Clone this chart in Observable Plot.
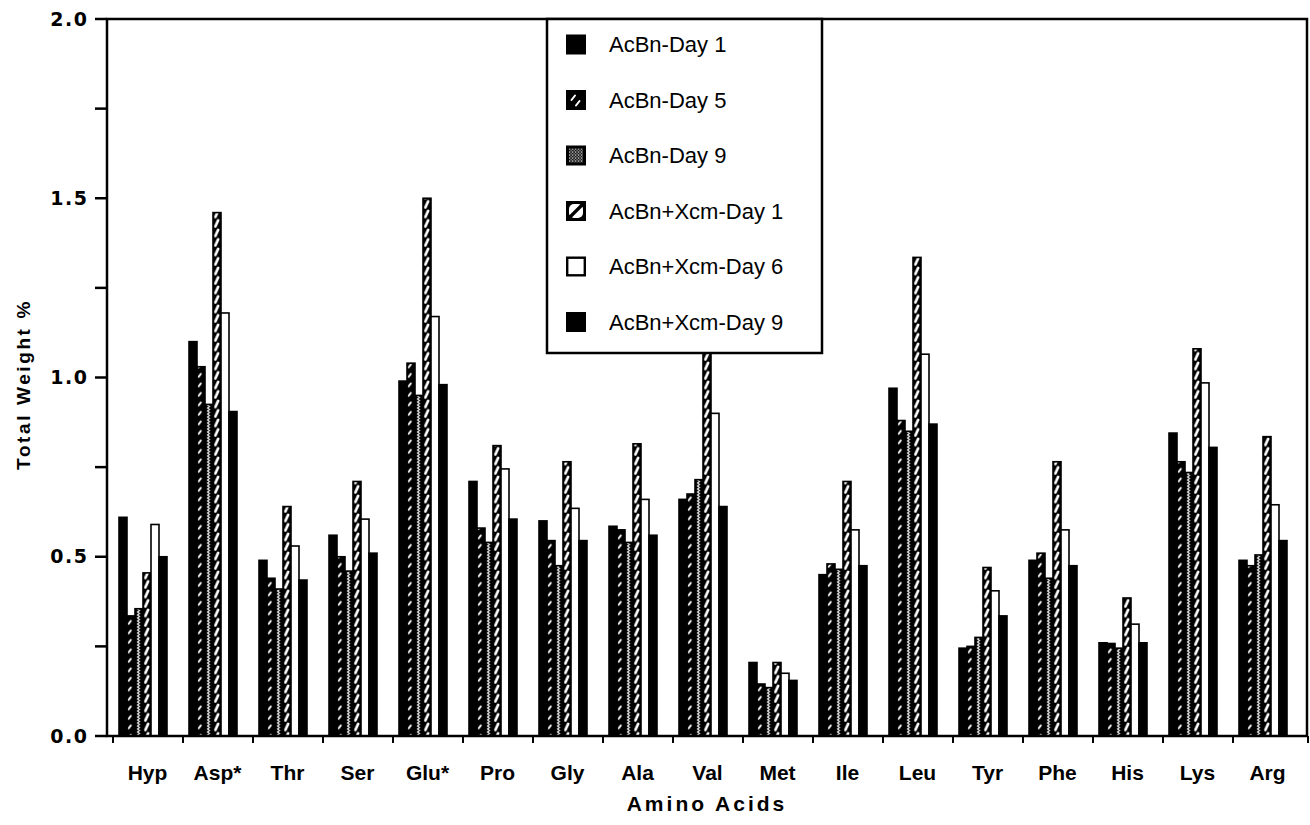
<!DOCTYPE html>
<html>
<head>
<meta charset="utf-8">
<script src="https://cdn.jsdelivr.net/npm/d3@7"></script>
<script src="https://cdn.jsdelivr.net/npm/@observablehq/plot@0.6"></script>
<style>
  html, body { margin: 0; padding: 0; background: #fff; }
  #chart svg { display: block; }
</style>
</head>
<body>
<div id="chart"></div>
<script>
// Amino acid composition (total weight %) for six sampling series
const aminoAcids = ["Hyp", "Asp*", "Thr", "Ser", "Glu*", "Pro", "Gly", "Ala", "Val",
                    "Met", "Ile", "Leu", "Tyr", "Phe", "His", "Lys", "Arg"];
const seriesNames = ["AcBn-Day 1", "AcBn-Day 5", "AcBn-Day 9",
                     "AcBn+Xcm-Day 1", "AcBn+Xcm-Day 6", "AcBn+Xcm-Day 9"];

const acbnDay1 = [0.61, 1.10, 0.49, 0.56, 0.99, 0.71, 0.60, 0.585, 0.66, 0.205, 0.45, 0.97, 0.245, 0.49, 0.26, 0.845, 0.49];
const acbnDay5 = [0.335, 1.03, 0.44, 0.50, 1.04, 0.58, 0.545, 0.575, 0.675, 0.145, 0.48, 0.88, 0.25, 0.51, 0.258, 0.765, 0.475];
const acbnDay9 = [0.355, 0.925, 0.41, 0.46, 0.95, 0.54, 0.475, 0.54, 0.715, 0.135, 0.465, 0.85, 0.275, 0.44, 0.245, 0.735, 0.505];
const xcmDay1  = [0.455, 1.46, 0.64, 0.71, 1.50, 0.81, 0.765, 0.815, 1.24, 0.205, 0.71, 1.335, 0.47, 0.765, 0.385, 1.08, 0.835];
const xcmDay6  = [0.59, 1.18, 0.53, 0.605, 1.17, 0.745, 0.635, 0.66, 0.90, 0.175, 0.575, 1.065, 0.405, 0.575, 0.312, 0.985, 0.645];
const xcmDay9  = [0.50, 0.905, 0.435, 0.51, 0.98, 0.605, 0.545, 0.56, 0.64, 0.155, 0.475, 0.87, 0.335, 0.475, 0.26, 0.805, 0.545];

const yLabelTicks = [0, 0.5, 1, 1.5, 2];
const yMinorTicks = [0.25, 0.75, 1.25, 1.75];

// Fill for each series: solid, hatched, stippled, slashed, open, solid
const seriesFills = ["black", "url(#fill-day5)", "url(#fill-day9)", "url(#fill-xcm1)", "white", "black"];

const seriesValues = [acbnDay1, acbnDay5, acbnDay9, xcmDay1, xcmDay6, xcmDay9];
const rows = aminoAcids.flatMap((amino, i) =>
  seriesNames.map((series, j) => ({amino, series, value: seriesValues[j][i]}))
);

const W = 1310, H = 825;
const mLeft = 107, mRight = 3, mTop = 19, mBottom = 89;
const barStep = 8.5;
const barOffset = 5;
const yTickLen = 12;

const chart = Plot.plot({
  width: W,
  height: H,
  marginLeft: mLeft,
  marginRight: mRight,
  marginTop: mTop,
  marginBottom: mBottom,
  style: {background: "white", color: "black", fontFamily: "'Liberation Sans', Arial, sans-serif", overflow: "visible"},
  facet: {data: rows, x: "amino"},
  fx: {domain: aminoAcids, padding: 0, range: [mLeft, W - mRight], axis: "bottom", label: null, tickSize: 0, tickPadding: 29},
  x: {domain: seriesNames, range: [mLeft + barOffset, mLeft + barOffset + 6 * barStep], padding: 0, axis: null},
  y: {domain: [0, 2], ticks: yLabelTicks, tickFormat: d => d.toFixed(1), tickSize: 0, tickPadding: 24, label: null},
  color: {type: "ordinal", domain: seriesNames, range: seriesFills},
  marks: [
    Plot.barY(rows, {x: "series", y: "value", fill: "series", stroke: "black", strokeWidth: 1.6, inset: 0})
  ]
});

document.getElementById("chart").appendChild(chart);
const svg = d3.select(chart.tagName.toLowerCase() === "svg" ? chart : chart.querySelector("svg"));

// Fill patterns for bars (tiles aligned to the bar slots inside each group)
const defs = svg.insert("defs", ":first-child");
function tile(id, h, draw) {
  const p = defs.append("pattern").attr("id", id)
    .attr("patternUnits", "userSpaceOnUse")
    .attr("x", mLeft + barOffset).attr("y", 0).attr("width", barStep).attr("height", h);
  p.append("rect").attr("width", barStep).attr("height", h).attr("fill", "black");
  draw(p);
}
tile("fill-day5", 9.5, p => p.append("line")
  .attr("x1", 3).attr("y1", 6.5).attr("x2", 5.4).attr("y2", 3.4)
  .attr("stroke", "white").attr("stroke-width", 1.8).attr("stroke-linecap", "round"));
tile("fill-day9", 3, p => p.append("path")
  .attr("d", "M3.4,0L5.3,1.5L3.4,3").attr("fill", "none")
  .attr("stroke", "white").attr("stroke-width", 1.3));
tile("fill-xcm1", 9.5, p => p.append("line")
  .attr("x1", 2.9).attr("y1", 8).attr("x2", 5.7).attr("y2", 1.8)
  .attr("stroke", "white").attr("stroke-width", 2.6).attr("stroke-linecap", "round"));
const chk = defs.append("pattern").attr("id", "legend-dots")
  .attr("patternUnits", "userSpaceOnUse").attr("width", 3).attr("height", 3);
chk.append("rect").attr("width", 3).attr("height", 3).attr("fill", "black");
chk.append("rect").attr("width", 1.2).attr("height", 1.2).attr("fill", "white");
chk.append("rect").attr("x", 1.5).attr("y", 1.5).attr("width", 1.2).attr("height", 1.2).attr("fill", "white");

const yScale = chart.scale("y");
const fxScale = chart.scale("fx");
const y0 = yScale.apply(0), y2 = yScale.apply(2);
const xL = fxScale.range[0], xR = fxScale.range[1];

// Axis styling
svg.selectAll('[aria-label^="y-axis"] text')
  .style("font", "bold 19px 'DejaVu Sans', sans-serif").style("letter-spacing", "1.5px").attr("fill", "black");
svg.selectAll('[aria-label^="fx-axis"] text')
  .style("font", "bold 21px 'Liberation Sans', Arial, sans-serif").attr("fill", "black");

// Value-axis tick marks (labelled halves and unlabelled quarters), pointing outward
const tickG = svg.append("g").attr("aria-label", "value ticks");
tickG.selectAll("line").data(yLabelTicks.concat(yMinorTicks)).join("line")
  .attr("x1", xL - yTickLen).attr("x2", xL)
  .attr("y1", d => yScale.apply(d)).attr("y2", d => yScale.apply(d))
  .attr("stroke", "black").attr("stroke-width", 2.5);

// Plot frame
svg.append("rect")
  .attr("x", xL).attr("y", y2).attr("width", xR - xL).attr("height", y0 - y2)
  .attr("fill", "none").attr("stroke", "black").attr("stroke-width", 2.5);

// Group boundary ticks on the category axis
const edges = aminoAcids.map(a => fxScale.apply(a)).concat([xR]);
svg.append("g").selectAll("line").data(edges).join("line")
  .attr("x1", d => d + 1).attr("x2", d => d + 1)
  .attr("y1", y0).attr("y2", y0 + 7)
  .attr("stroke", "black").attr("stroke-width", 2);

// Axis titles
svg.append("text")
  .attr("transform", `translate(30,${(y0 + y2) / 2 + 7}) rotate(-90)`)
  .attr("text-anchor", "middle")
  .style("font", "bold 19px 'Liberation Sans', Arial, sans-serif").style("letter-spacing", "2.6px")
  .text("Total Weight %");
svg.append("text")
  .attr("x", (xL + xR) / 2).attr("y", 811)
  .attr("text-anchor", "middle")
  .style("font", "bold 21px 'Liberation Sans', Arial, sans-serif").style("letter-spacing", "3px")
  .text("Amino Acids");

// Legend box
const lg = svg.append("g").attr("text-anchor", "start");
lg.append("rect").attr("x", 547).attr("y", y2).attr("width", 275).attr("height", 334)
  .attr("fill", "white").attr("stroke", "black").attr("stroke-width", 2.5);
const rowY = i => 44.5 + i * 55.5;
const sw = 20;
seriesNames.forEach((name, i) => {
  const g = lg.append("g").attr("transform", `translate(566,${rowY(i) - sw / 2})`);
  if (i === 0 || i === 5) {
    g.append("rect").attr("width", sw).attr("height", sw).attr("fill", "black");
  } else if (i === 1) {
    g.append("rect").attr("width", sw).attr("height", sw).attr("fill", "black");
    g.append("line").attr("x1", 5.5).attr("y1", 10).attr("x2", 9).attr("y2", 5.5).attr("stroke", "white").attr("stroke-width", 2).attr("stroke-linecap", "round");
    g.append("line").attr("x1", 10).attr("y1", 15.5).attr("x2", 13.5).attr("y2", 11).attr("stroke", "white").attr("stroke-width", 2).attr("stroke-linecap", "round");
  } else if (i === 2) {
    g.append("rect").attr("width", sw).attr("height", sw).attr("fill", "black");
    g.append("rect").attr("x", 3).attr("y", 3).attr("width", sw - 6).attr("height", sw - 6).attr("fill", "url(#legend-dots)");
  } else if (i === 3) {
    g.append("rect").attr("width", sw).attr("height", sw).attr("fill", "black");
    g.append("rect").attr("x", 3).attr("y", 3).attr("width", sw - 6).attr("height", sw - 6).attr("rx", 5).attr("fill", "white");
    g.append("line").attr("x1", 4).attr("y1", sw - 4).attr("x2", sw - 4).attr("y2", 4).attr("stroke", "black").attr("stroke-width", 3.2);
  } else {
    g.append("rect").attr("x", 1.2).attr("y", 1.2).attr("width", sw - 2.4).attr("height", sw - 2.4).attr("fill", "white").attr("stroke", "black").attr("stroke-width", 2.4);
  }
  lg.append("text").attr("x", 609).attr("y", rowY(i)).attr("dy", "0.36em")
    .attr("text-anchor", "start")
    .style("font", "22px 'Liberation Sans', Arial, sans-serif").attr("fill", "black")
    .text(name);
});
</script>
</body>
</html>
